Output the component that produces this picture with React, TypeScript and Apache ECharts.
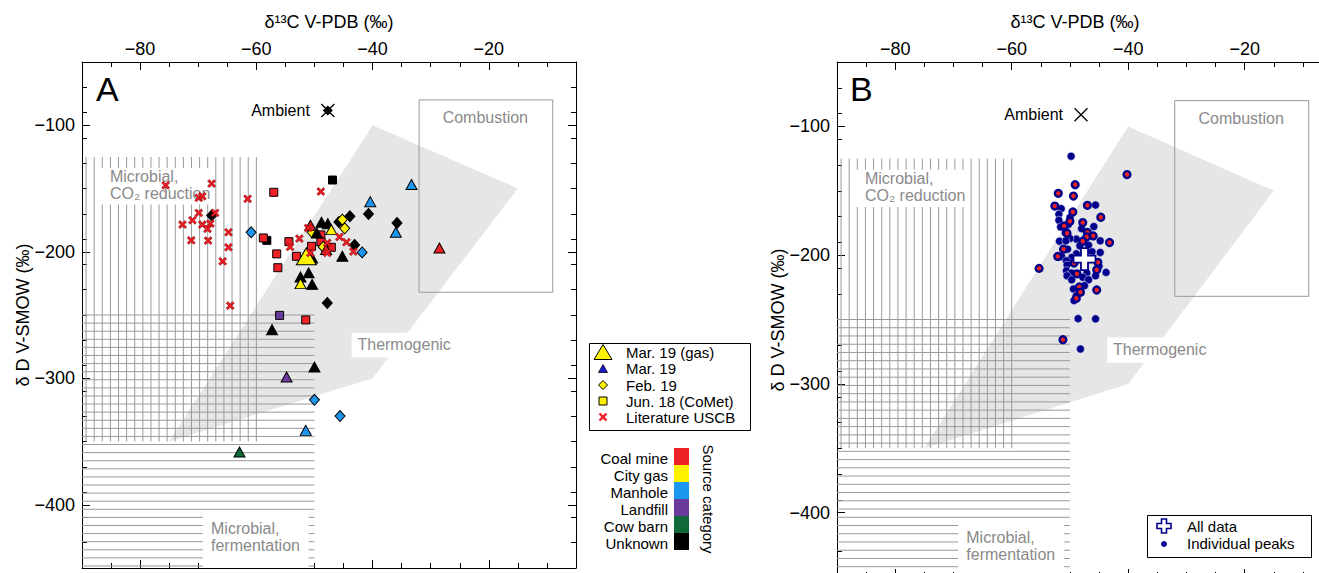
import React, { useEffect, useRef } from "react";
import * as echarts from "echarts";

const FONT = '"Liberation Sans", Arial, Helvetica, sans-serif';

// ---------- axes ----------
const xRange = [-90, -5];
const yRange = [-450, -50];
const xMajorTicks = [-80, -60, -40, -20];
const yMajorTicks = [-400, -300, -200, -100];

// ---------- categories ----------
const sourceCategories = ["Coal mine", "City gas", "Manhole", "Landfill", "Cow barn", "Unknown"];
const sourceColors = ["#ee2127", "#fff200", "#1d96f0", "#6a3b9c", "#0f6a38", "#000000"];

// ---------- panel A data: [δ13C, δD, source category] ----------
const mar19Gas: [number, number, string][] = [[-51.4, -203.6, "City gas"]];

const mar19: [number, number, string][] = [
  [-48.8, -176.7, "Unknown"], [-47.7, -177.8, "Unknown"], [-49.6, -185.1, "Unknown"],
  [-45.2, -203.6, "Unknown"], [-50.4, -204.9, "Unknown"], [-51.0, -216.7, "Unknown"],
  [-52.4, -219.9, "Unknown"], [-50.4, -225.8, "Unknown"], [-57.3, -261.6, "Unknown"],
  [-50.0, -291.1, "Unknown"],
  [-33.3, -146.9, "Manhole"], [-40.4, -160.4, "Manhole"], [-36.0, -184.6, "Manhole"],
  [-51.5, -341.2, "Manhole"],
  [-50.7, -179.1, "Coal mine"], [-48.0, -198.3, "Coal mine"], [-28.5, -197.0, "Coal mine"],
  [-47.1, -182.5, "City gas"], [-52.4, -225.2, "City gas"],
  [-54.8, -299.0, "Landfill"],
  [-62.9, -358.3, "Cow barn"],
];

const feb19: [number, number, string][] = [
  [-67.7, -171.4, "Unknown"], [-40.7, -170.1, "Unknown"], [-35.8, -177.2, "Unknown"],
  [-45.8, -176.4, "Unknown"], [-43.9, -172.0, "Unknown"], [-43.1, -194.6, "Unknown"],
  [-47.8, -240.5, "Unknown"],
  [-50.4, -184.6, "City gas"], [-44.8, -181.5, "City gas"], [-45.2, -174.6, "City gas"],
  [-48.5, -196.2, "City gas"],
  [-60.9, -184.6, "Manhole"], [-41.8, -200.5, "Manhole"], [-50.0, -317.0, "Manhole"],
  [-45.6, -329.9, "Manhole"],
];

const jun18CoMet: [number, number, string][] = [
  [-46.9, -143.3, "Unknown"], [-58.2, -191.0, "Unknown"],
  [-57.0, -153.0, "Coal mine"], [-58.8, -189.1, "Coal mine"], [-56.5, -201.7, "Coal mine"],
  [-56.3, -212.6, "Coal mine"], [-54.4, -192.0, "Coal mine"], [-53.1, -203.6, "Coal mine"],
  [-50.5, -195.7, "Coal mine"], [-48.9, -186.7, "Coal mine"], [-48.9, -192.2, "Coal mine"],
  [-47.1, -196.5, "Coal mine"], [-51.5, -253.9, "Coal mine"],
  [-56.0, -250.3, "Landfill"],
];

const literatureUSCB: [number, number][] = [
  [-75.6, -147.5], [-67.7, -146.1], [-69.9, -157.4], [-69.3, -156.2], [-61.5, -158.2],
  [-48.9, -152.4], [-67.1, -169.3], [-69.9, -169.3], [-71.0, -175.1], [-72.7, -178.5],
  [-69.3, -178.5], [-67.9, -177.7], [-68.4, -181.9], [-71.2, -191.0], [-68.3, -191.2],
  [-64.8, -184.6], [-64.8, -196.5], [-65.8, -207.6], [-54.2, -196.2], [-52.6, -189.6],
  [-64.5, -242.6], [-51.1, -181.2], [-50.7, -200.9], [-47.8, -193.0], [-47.8, -200.9],
  [-45.7, -188.3], [-44.5, -192.5], [-43.3, -199.9],
];

const ambientA: [number, number][] = [[-47.7, -88.4]];

// ---------- panel B data ----------
const ambientB: [number, number][] = [[-48.1, -91.0]];
const allData: [number, number][] = [[-47.5, -203.1]];

const peaksPlain: [number, number][] = [
  [-49.8, -123.2], [-51.5, -163.9], [-45.6, -161.1], [-51.9, -168.3], [-50.0, -170.8],
  [-51.9, -172.9], [-50.3, -176.3], [-51.6, -178.1], [-45.9, -177.8], [-48.0, -179.4],
  [-50.8, -182.4], [-48.9, -187.6], [-50.0, -187.1], [-44.8, -188.9], [-51.8, -189.2],
  [-50.7, -188.9], [-46.8, -192.3], [-48.3, -192.8], [-50.4, -195.4], [-46.2, -197.4],
  [-44.8, -197.9], [-48.9, -199.0], [-51.4, -201.3], [-49.7, -201.8], [-50.6, -204.4],
  [-46.5, -202.6], [-45.0, -208.7], [-50.5, -207.7], [-43.8, -213.4], [-50.6, -212.1],
  [-49.7, -213.9], [-47.1, -213.9], [-45.6, -216.0], [-50.5, -216.0], [-49.7, -219.1],
  [-47.8, -217.2], [-46.8, -219.1], [-47.5, -223.7], [-49.4, -226.3], [-48.9, -231.5],
  [-49.3, -235.3], [-48.6, -249.3], [-45.6, -249.5], [-48.2, -272.9],
];

const peaksCoal: [number, number][] = [
  [-49.1, -145.3], [-52.0, -152.0], [-49.4, -154.1], [-52.6, -161.9], [-47.0, -161.3],
  [-49.5, -166.5], [-44.7, -170.6], [-50.0, -173.7], [-47.8, -174.7], [-51.0, -177.3],
  [-47.0, -182.4], [-50.5, -183.0], [-47.1, -185.8], [-46.0, -185.1], [-47.8, -189.2],
  [-43.2, -190.2], [-51.1, -195.4], [-52.1, -201.0], [-55.3, -210.3], [-49.3, -206.2],
  [-45.2, -205.6], [-45.4, -211.4], [-48.8, -214.5], [-48.4, -224.7], [-45.4, -227.1],
  [-48.2, -228.8], [-48.9, -233.5], [-51.2, -265.7], [-40.2, -137.4],
];

// ---------- source regions ----------
const thermogenicRegion: [number, number][] = [[-75, -350], [-40, -300], [-15, -150], [-40, -100]];
const combustionX = [-32, -9];
const combustionY = [-232, -80];
const co2ReductionX = [-89.3, -60];
const co2ReductionY = [-350, -125];
const fermentationX = [-90, -50];
const fermentationY = [-450, -250];

const regionLabels = [
  { lines: ["Combustion"], at: [-20.6, -94], align: "center", box: null as null | number[] },
  { lines: ["Microbial,", "CO\u2082 reduction"], at: [-85.2, -140.3], align: "left", box: [-86.8, -67.3, -162.7, -133.7] },
  { lines: ["Thermogenic"], at: [-42.6, -273.5], align: "left", box: [-43.6, -26.0, -283.5, -264.0] },
  { lines: ["Microbial,", "fermentation"], at: [-67.8, -419.0], align: "left", box: [-69.2, -51.0, -470, -408.0] },
];

// ---------- helpers ----------
const colorOf = (cat: string) => sourceColors[sourceCategories.indexOf(cat)];
const minus = (v: number) => String(v).replace("-", "\u2212");

const range = (a: number, b: number, s: number) => {
  const out: number[] = [];
  for (let v = a; v <= b + 1e-6; v += s) out.push(Math.round(v * 100) / 100);
  return out;
};
const xMinorTicks = range(xRange[0], xRange[1], 5).filter((v) => !xMajorTicks.includes(v) && v > xRange[0] && v < xRange[1]);
const yMinorTicks = range(yRange[0], yRange[1], 20).filter((v) => !yMajorTicks.includes(v) && v > yRange[0] && v < yRange[1]);

const X_PATH = "path://M2,0L5,3L8,0L10,2L7,5L10,8L8,10L5,7L2,10L0,8L3,5L0,2Z";
const THIN_X = "path://M0,0L10,10M10,0L0,10";
const PLUS = "path://M3.4,0H6.6V3.4H10V6.6H6.6V10H3.4V6.6H0V3.4H3.4Z";

function makeAxes(g: number) {
  const line = { color: "#000", width: 1 };
  const base = { type: "value", gridIndex: g, splitLine: { show: false } };
  const xs = ["top", "bottom"].flatMap((pos) => [
    {
      ...base, position: pos, min: xRange[0], max: xRange[1],
      axisLine: { show: true, onZero: false, lineStyle: line },
      axisTick: { show: true, inside: true, length: 8, customValues: xMajorTicks, lineStyle: line },
      axisLabel: pos === "top"
        ? { show: true, customValues: xMajorTicks, formatter: minus, fontSize: 18, fontFamily: FONT, color: "#000", margin: 4 }
        : { show: false },
    },
    {
      ...base, position: pos, min: xRange[0], max: xRange[1],
      axisLine: { show: false },
      axisTick: { show: true, inside: true, length: 5, customValues: xMinorTicks, lineStyle: line },
      axisLabel: { show: false },
    },
  ]);
  const ys = ["left", "right"].flatMap((pos) => [
    {
      ...base, position: pos, min: yRange[0], max: yRange[1],
      axisLine: { show: true, onZero: false, lineStyle: line },
      axisTick: { show: true, inside: true, length: 8, customValues: yMajorTicks, lineStyle: line },
      axisLabel: pos === "left"
        ? { show: true, customValues: yMajorTicks, formatter: minus, fontSize: 18, fontFamily: FONT, color: "#000", margin: 7 }
        : { show: false },
    },
    {
      ...base, position: pos, min: yRange[0], max: yRange[1],
      axisLine: { show: false },
      axisTick: { show: true, inside: true, length: 5, customValues: yMinorTicks, lineStyle: line },
      axisLabel: { show: false },
    },
  ]);
  return { xs, ys };
}

function backgroundSeries(ai: number) {
  return {
    type: "custom",
    xAxisIndex: ai,
    yAxisIndex: ai,
    z: 1,
    silent: true,
    clip: true,
    data: [[-60, -200]],
    renderItem: (_params: any, api: any) => {
      const c = (p: number[]) => api.coord(p);
      const children: any[] = [];
      children.push({ type: "polygon", shape: { points: thermogenicRegion.map(c) }, style: { fill: "#e6e6e6" } });
      for (let x = co2ReductionX[0]; x <= co2ReductionX[1] + 0.05; x += (co2ReductionX[1] - co2ReductionX[0]) / 21) {
        const a = c([x, co2ReductionY[1]]);
        const b = c([x, co2ReductionY[0]]);
        children.push({ type: "line", shape: { x1: a[0], y1: a[1], x2: b[0], y2: b[1] }, style: { stroke: "#999", lineWidth: 1 } });
      }
      for (let y = fermentationY[1]; y >= fermentationY[0]; y -= 6.4) {
        const a = c([fermentationX[0], y]);
        const b = c([fermentationX[1], y]);
        children.push({ type: "line", shape: { x1: a[0], y1: a[1], x2: b[0], y2: b[1] }, style: { stroke: "#999", lineWidth: 1 } });
      }
      const tl = c([combustionX[0], combustionY[1]]);
      const br = c([combustionX[1], combustionY[0]]);
      children.push({ type: "rect", shape: { x: tl[0], y: tl[1], width: br[0] - tl[0], height: br[1] - tl[1] }, style: { fill: "none", stroke: "#999", lineWidth: 1 } });
      for (const lb of regionLabels) {
        if (lb.box) {
          const p = c([lb.box[0], lb.box[3]]);
          const q = c([lb.box[1], lb.box[2]]);
          children.push({ type: "rect", shape: { x: p[0], y: p[1], width: q[0] - p[0], height: q[1] - p[1] }, style: { fill: "#fff" } });
        }
        const o = c(lb.at);
        lb.lines.forEach((t, i) => {
          children.push({
            type: "text",
            style: { text: t, x: o[0], y: o[1] + i * 17, fill: "#8a8a8a", fontSize: 16, fontFamily: FONT, align: lb.align, verticalAlign: "middle" },
          });
        });
      }
      return { type: "group", children };
    },
  };
}

const catStyle = { color: (p: any) => colorOf(p.data[2]), borderColor: "#000", borderWidth: 1, opacity: 1 };

const seriesA = [
  backgroundSeries(0),
  { type: "scatter", name: "Jun. 18 (CoMet)", xAxisIndex: 0, yAxisIndex: 0, z: 3, symbol: "rect", symbolSize: 8, data: jun18CoMet, itemStyle: catStyle },
  { type: "scatter", name: "Feb. 19", xAxisIndex: 0, yAxisIndex: 0, z: 3, symbol: "diamond", symbolSize: [10, 11], data: feb19, itemStyle: catStyle },
  { type: "scatter", name: "Mar. 19", xAxisIndex: 0, yAxisIndex: 0, z: 3, symbol: "triangle", symbolSize: [11, 10], data: mar19, itemStyle: catStyle },
  { type: "scatter", name: "Mar. 19 (gas)", xAxisIndex: 0, yAxisIndex: 0, z: 3, symbol: "triangle", symbolSize: [20, 17], data: mar19Gas, itemStyle: catStyle },
  { type: "scatter", name: "Literature USCB", xAxisIndex: 0, yAxisIndex: 0, z: 3, symbol: X_PATH, symbolSize: 8, data: literatureUSCB, itemStyle: { color: "#ee1c24", borderColor: "#7a0000", borderWidth: 0.6, opacity: 1 } },
  { type: "scatter", name: "Ambient diamond", xAxisIndex: 0, yAxisIndex: 0, z: 3, symbol: "diamond", symbolSize: 10, data: ambientA, itemStyle: { color: "#000", opacity: 1 } },
  {
    type: "scatter", name: "Ambient", xAxisIndex: 0, yAxisIndex: 0, z: 4, symbol: THIN_X, symbolSize: 13, data: ambientA,
    itemStyle: { color: "none", borderColor: "#000", borderWidth: 1.3, opacity: 1 },
    label: { show: true, position: "left", distance: 9, formatter: "Ambient", fontSize: 16, fontFamily: FONT, color: "#000" },
  },
];

const seriesB = [
  backgroundSeries(4),
  { type: "scatter", name: "Individual peaks", xAxisIndex: 4, yAxisIndex: 4, z: 3, symbol: "circle", symbolSize: 8, data: peaksPlain, itemStyle: { color: "#00008b", borderColor: "#c8c8ee", borderWidth: 0.6, opacity: 1 } },
  { type: "scatter", name: "Individual peaks (coal)", xAxisIndex: 4, yAxisIndex: 4, z: 3, symbol: "circle", symbolSize: 6.8, data: peaksCoal, itemStyle: { color: "#ee2020", borderColor: "#00008b", borderWidth: 2.4, opacity: 1 } },
  { type: "scatter", name: "All data", xAxisIndex: 4, yAxisIndex: 4, z: 4, symbol: PLUS, symbolSize: 22, data: allData, itemStyle: { color: "#fff", borderColor: "#00008b", borderWidth: 1.8, opacity: 1 } },
  {
    type: "scatter", name: "Ambient B", xAxisIndex: 4, yAxisIndex: 4, z: 4, symbol: THIN_X, symbolSize: 13, data: ambientB,
    itemStyle: { color: "none", borderColor: "#000", borderWidth: 1.3, opacity: 1 },
    label: { show: true, position: "left", distance: 9, formatter: "Ambient", fontSize: 16, fontFamily: FONT, color: "#000" },
  },
];

// ---------- legend graphics ----------
const tri = (x: number, y: number, w: number, h: number) => [[x - w / 2, y + h / 2], [x + w / 2, y + h / 2], [x, y - h / 2]];
const dia = (x: number, y: number, s: number) => [[x, y - s / 2], [x + s / 2, y], [x, y + s / 2], [x - s / 2, y]];
const plusPts = (x: number, y: number, s: number, t: number) => {
  const a = s / 2, b = t / 2;
  return [[x - b, y - a], [x + b, y - a], [x + b, y - b], [x + a, y - b], [x + a, y + b], [x + b, y + b], [x + b, y + a], [x - b, y + a], [x - b, y + b], [x - a, y + b], [x - a, y - b], [x - b, y - b]];
};
const legText = (text: string, x: number, y: number, extra: any = {}) => ({
  type: "text", x, y, style: { text, fontSize: 15, fontFamily: FONT, fill: "#000", verticalAlign: "middle", ...extra },
});

const legendRowsA = ["Mar. 19 (gas)", "Mar. 19", "Feb. 19", "Jun. 18 (CoMet)", "Literature USCB"];
const lgX = 603, lgT = 626, lgY = [352, 368.5, 385, 401, 417];

const graphics: any[] = [
  { type: "text", x: 96, y: 89, style: { text: "A", fontSize: 34, fontFamily: FONT, fill: "#000", verticalAlign: "middle" } },
  { type: "text", x: 850, y: 89, style: { text: "B", fontSize: 34, fontFamily: FONT, fill: "#000", verticalAlign: "middle" } },
  { type: "text", x: 329, y: 22, style: { text: "\u03b4\u00b9\u00b3C V-PDB (\u2030)", fontSize: 18, fontFamily: FONT, fill: "#000", align: "center", verticalAlign: "middle" } },
  { type: "text", x: 1075, y: 22, style: { text: "\u03b4\u00b9\u00b3C V-PDB (\u2030)", fontSize: 18, fontFamily: FONT, fill: "#000", align: "center", verticalAlign: "middle" } },
  { type: "text", x: 23, y: 315, rotation: Math.PI / 2, style: { text: "\u03b4 D V-SMOW (\u2030)", fontSize: 18, fontFamily: FONT, fill: "#000", align: "center", verticalAlign: "middle" } },
  { type: "text", x: 778, y: 320, rotation: Math.PI / 2, style: { text: "\u03b4 D V-SMOW (\u2030)", fontSize: 18, fontFamily: FONT, fill: "#000", align: "center", verticalAlign: "middle" } },
  // legend A
  { type: "rect", shape: { x: 589.5, y: 343.5, width: 161, height: 87 }, style: { fill: "#fff", stroke: "#000", lineWidth: 1 }, z: 10 },
  { type: "polygon", shape: { points: tri(lgX, lgY[0], 18, 15) }, style: { fill: "#fff200", stroke: "#000", lineWidth: 1 }, z: 11 },
  { type: "polygon", shape: { points: tri(lgX, lgY[1], 9, 8) }, style: { fill: "#1a1acc", stroke: "#000", lineWidth: 0.8 }, z: 11 },
  { type: "polygon", shape: { points: dia(lgX, lgY[2], 9) }, style: { fill: "#fff200", stroke: "#000", lineWidth: 1 }, z: 11 },
  { type: "rect", shape: { x: lgX - 4, y: lgY[3] - 4, width: 8, height: 8 }, style: { fill: "#fff200", stroke: "#000", lineWidth: 1 }, z: 11 },
  { type: "line", shape: { x1: lgX - 3.5, y1: lgY[4] - 3.5, x2: lgX + 3.5, y2: lgY[4] + 3.5 }, style: { stroke: "#ee1c24", lineWidth: 2.4 }, z: 11 },
  { type: "line", shape: { x1: lgX + 3.5, y1: lgY[4] - 3.5, x2: lgX - 3.5, y2: lgY[4] + 3.5 }, style: { stroke: "#ee1c24", lineWidth: 2.4 }, z: 11 },
  ...legendRowsA.map((t, i) => ({ ...legText(t, lgT, lgY[i]), z: 11 })),
  // source category colour key
  ...sourceCategories.map((cat, i) => ({ type: "rect", shape: { x: 674, y: 448 + i * 17, width: 15, height: 17 }, style: { fill: sourceColors[i] } })),
  ...sourceCategories.map((cat, i) => legText(cat, 668, 458 + i * 17, { align: "right" })),
  { type: "text", x: 708, y: 499, rotation: -Math.PI / 2, style: { text: "Source category", fontSize: 15, fontFamily: FONT, fill: "#000", align: "center", verticalAlign: "middle" } },
  // legend B
  { type: "rect", shape: { x: 1147.5, y: 515.5, width: 164, height: 42 }, style: { fill: "#fff", stroke: "#000", lineWidth: 1 }, z: 10 },
  { type: "polygon", shape: { points: plusPts(1164, 526, 14, 5) }, style: { fill: "#fff", stroke: "#00008b", lineWidth: 1.6 }, z: 11 },
  { type: "circle", shape: { cx: 1164, cy: 544, r: 3 }, style: { fill: "#00008b" }, z: 11 },
  { ...legText("All data", 1187, 526), z: 11 },
  { ...legText("Individual peaks", 1187, 543.5), z: 11 },
];

const axA = makeAxes(0);
const axB = makeAxes(1);

const option: any = {
  animation: false,
  backgroundColor: "#fff",
  textStyle: { fontFamily: FONT },
  grid: [
    { left: 82, top: 62, width: 494, height: 506 },
    { left: 837, top: 62, width: 495, height: 515 },
  ],
  xAxis: [...axA.xs, ...axB.xs],
  yAxis: [...axA.ys, ...axB.ys],
  series: [...seriesA, ...seriesB],
  graphic: graphics,
};

export default function App() {
  const ref = useRef<HTMLDivElement>(null);
  useEffect(() => {
    const chart = echarts.init(ref.current!, undefined, { renderer: "svg" });
    chart.setOption(option);
    return () => chart.dispose();
  }, []);
  return (
    <div style={{ position: "absolute", left: 0, top: 0, width: 1319, height: 573, overflow: "hidden", background: "#fff" }}>
      <div ref={ref} style={{ position: "absolute", left: 0, top: 0, width: 1345, height: 590 }} />
    </div>
  );
}
